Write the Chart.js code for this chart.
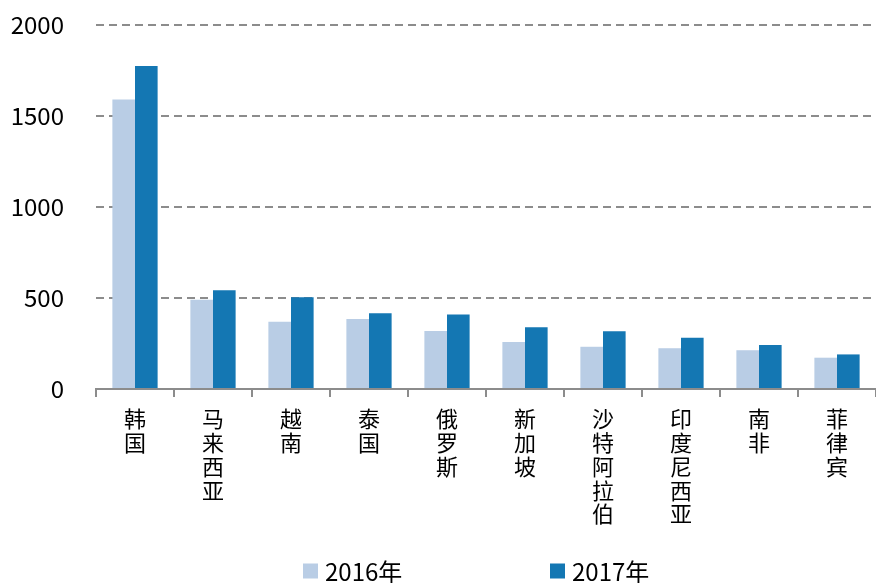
<!DOCTYPE html>
<html>
<head>
<meta charset="utf-8">
<script src="https://cdn.jsdelivr.net/npm/chart.js@4/dist/chart.umd.min.js"></script>
<style>
  html, body { margin: 0; padding: 0; background: #fff; }
  #wrap { width: 876px; height: 583px; position: relative; }
</style>
</head>
<body>
<div id="wrap"><canvas id="c" width="876" height="583"></canvas></div>
<script>
// ---- data ----
const categories = ['韩国', '马来西亚', '越南', '泰国', '俄罗斯', '新加坡', '沙特阿拉伯', '印度尼西亚', '南非', '菲律宾'];
const seriesNames = ['2016年', '2017年'];
const values2016 = [1590, 490, 370, 385, 319, 258, 232, 224, 213, 172];
const values2017 = [1775, 542, 504, 416, 410, 339, 317, 282, 242, 190];
const yTicks = [0, 500, 1000, 1500, 2000];

// ---- style ----
const colors = ['#B9CDE5', '#1477B3'];
const FONT = '"Noto Sans CJK SC", "Noto Sans", sans-serif';

const legendPlugin = {
  id: 'customLegend',
  afterDraw(chart) {
    const ctx = chart.ctx;
    const pos = [303, 550];
    const cy = 571;
    ctx.save();
    ctx.font = '24px ' + FONT;
    ctx.textBaseline = 'middle';
    ctx.textAlign = 'left';
    chart.data.datasets.forEach((ds, i) => {
      ctx.fillStyle = ds.backgroundColor;
      ctx.fillRect(pos[i], cy - 7.5, 15, 15);
      ctx.fillStyle = '#000';
      ctx.fillText(ds.label, pos[i] + 22, cy + 1);
    });
    ctx.restore();
  }
};

new Chart(document.getElementById('c'), {
  type: 'bar',
  data: {
    labels: categories,
    datasets: [
      { label: seriesNames[0], data: values2016, backgroundColor: colors[0] },
      { label: seriesNames[1], data: values2017, backgroundColor: colors[1] }
    ]
  },
  options: {
    responsive: false,
    animation: false,
    devicePixelRatio: 1,
    layout: { padding: { top: 25, right: 0, left: 0, bottom: 0 } },
    datasets: { bar: { categoryPercentage: 0.58, barPercentage: 1.0 } },
    plugins: {
      legend: { display: false },
      tooltip: { enabled: false }
    },
    scales: {
      x: {
        grid: {
          offset: true,
          drawOnChartArea: false,
          drawTicks: true,
          tickLength: 8,
          color: '#8C8C8C',
          lineWidth: 2
        },
        border: { display: true, color: '#8C8C8C', width: 2 },
        ticks: {
          autoSkip: false,
          maxRotation: 0,
          minRotation: 0,
          padding: 10,
          color: '#000',
          font: { family: FONT, size: 22, lineHeight: 1.08 },
          callback: function(value, index) { return Array.from(categories[index]); }
        },
        afterFit(scale) {
          scale.height = 583 - 389;
          scale.paddingLeft = 0; scale.paddingRight = 0;
        }
      },
      y: {
        min: 0,
        max: 2000,
        afterBuildTicks(scale) { scale.ticks = yTicks.map(v => ({ value: v })); },
        grid: {
          drawTicks: false,
          color: '#8C8C8C',
          lineWidth: 2
        },
        border: { display: false, dash: [8, 5] },
        ticks: {
          padding: 32,
          color: '#000',
          font: { family: FONT, size: 24 },
          callback: function(value) { return String(value); }
        },
        afterFit(scale) {
          scale.width = 96;
          scale.paddingTop = 0; scale.paddingBottom = 0;
        }
      }
    }
  },
  plugins: [legendPlugin]
});
</script>
</body>
</html>
